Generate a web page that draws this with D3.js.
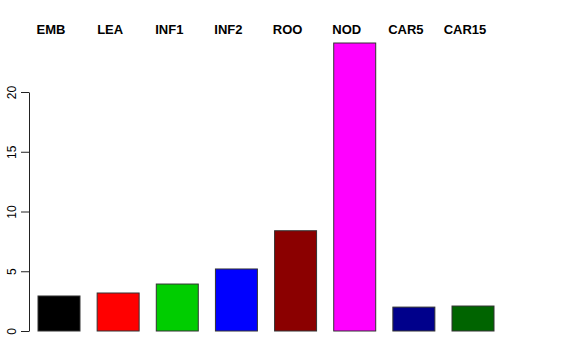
<!DOCTYPE html>
<html>
<head>
<meta charset="utf-8">
<script src="https://cdn.jsdelivr.net/npm/d3@7"></script>
<style>
  body { margin: 0; background: #fff; }
  svg { display: block; font-family: "Liberation Sans", Arial, sans-serif; }
</style>
</head>
<body>
<svg width="576" height="360"></svg>
<script>
// data
var categories = ["EMB", "LEA", "INF1", "INF2", "ROO", "NOD", "CAR5", "CAR15"];
var values = [2.93, 3.18, 3.93, 5.19, 8.39, 24.1, 2.0, 2.09];
var colors = ["#000000", "#ff0000", "#00cd00", "#0000ff", "#8b0000", "#ff00ff", "#00008b", "#006400"];
var yTicks = [0, 5, 10, 15, 20];

var svg = d3.select("svg");

// x: bars from 38 to 494
var x = d3.scaleBand()
    .domain(categories)
    .range([38, 494])
    .paddingInner(0.29)
    .paddingOuter(0);

// y: 0 at 331, 20 at 92
var y = d3.scaleLinear()
    .domain([0, 20])
    .range([331, 92]);

// bars
svg.selectAll(".bar")
    .data(values)
    .enter().append("rect")
    .attr("class", "bar")
    .attr("x", function (d, i) { return x(categories[i]); })
    .attr("y", function (d) { return y(d); })
    .attr("width", x.bandwidth())
    .attr("height", function (d) { return y(0) - y(d); })
    .attr("fill", function (d, i) { return colors[i]; })
    .attr("stroke", "#333")
    .attr("stroke-width", 1);

// y axis
var yAxis = svg.append("g")
    .attr("transform", "translate(29,0)")
    .call(d3.axisLeft(y).tickValues(yTicks).tickSize(8).tickSizeOuter(0).tickPadding(0));

yAxis.select(".domain").attr("stroke", "#222");
yAxis.selectAll(".tick line").attr("stroke", "#222");
yAxis.selectAll(".tick text")
    .attr("font-size", 12)
    .attr("fill", "#000")
    .attr("text-anchor", "middle")
    .attr("x", 0)
    .attr("dy", 0)
    .attr("transform", "translate(-13,0) rotate(-90)");

// category labels at the top
svg.selectAll(".lab")
    .data(categories)
    .enter().append("text")
    .attr("class", "lab")
    .attr("x", function (d) { return x(d) + x.bandwidth() / 2 - 8; })
    .attr("y", 34)
    .attr("text-anchor", "middle")
    .attr("font-size", 13)
    .attr("font-weight", "bold")
    .text(function (d) { return d; });
</script>
</body>
</html>
